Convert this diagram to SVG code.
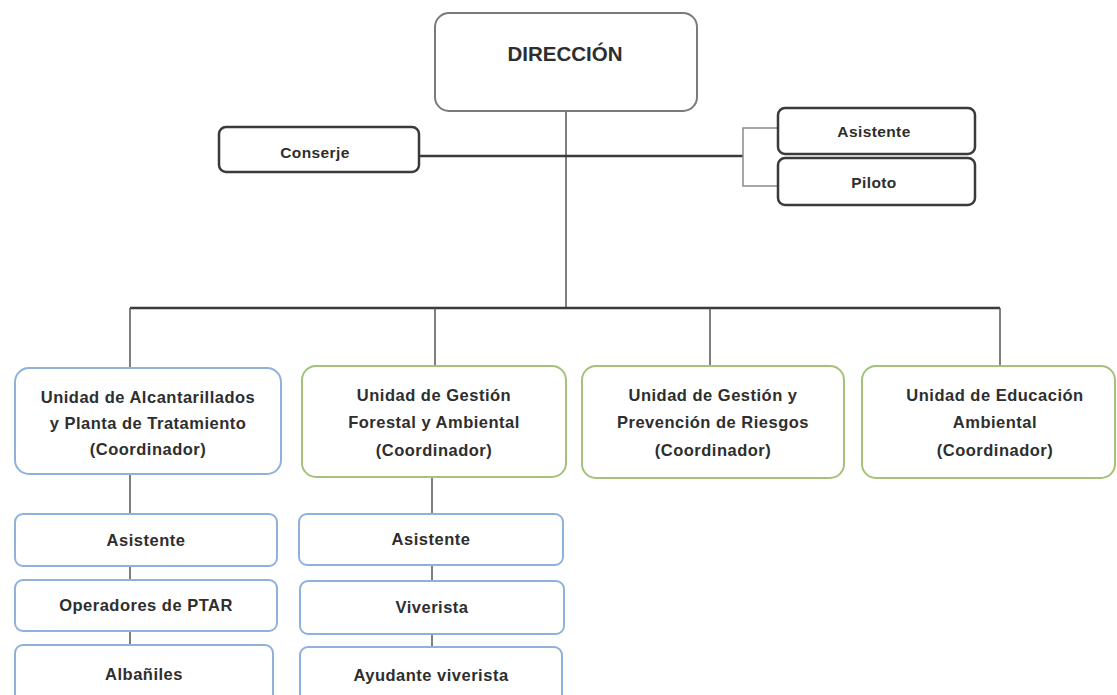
<svg xmlns="http://www.w3.org/2000/svg" width="1117" height="695" viewBox="0 0 1117 695">
<style>
text{font-family:"Liberation Sans",Arial,sans-serif;font-weight:bold;fill:#2e2e2e;text-anchor:middle}
.t{font-size:16.5px;letter-spacing:0.5px}
.s{font-size:15.5px;letter-spacing:0.4px}
.dark{fill:#fff;stroke:#3a3a3a;stroke-width:2.5}
.blue{fill:#fff;stroke:#8fb1dc;stroke-width:2}
.green{fill:#fff;stroke:#a4c27a;stroke-width:2}
.ln{stroke:#3a3a3a;stroke-width:2.5;fill:none}
.ln2{stroke:#555;stroke-width:1.5;fill:none}
.br{stroke:#8a8a8a;stroke-width:1.5;fill:none}
</style>
<rect width="1117" height="695" fill="#fff"/>
<g id="connectors">
<line class="ln2" x1="566" y1="112" x2="566" y2="308"/>
<line class="ln" x1="420" y1="156" x2="743" y2="156"/>
<polyline class="br" points="778,128 743,128 743,186 778,186"/>
<line class="ln" x1="130" y1="308" x2="1000" y2="308"/>
<line class="ln2" x1="130" y1="308" x2="130" y2="368"/>
<line class="ln2" x1="435" y1="308" x2="435" y2="366"/>
<line class="ln2" x1="710" y1="308" x2="710" y2="366"/>
<line class="ln2" x1="1000" y1="308" x2="1000" y2="366"/>
<line class="ln2" x1="130" y1="474" x2="130" y2="645"/>
<line class="ln2" x1="432" y1="477" x2="432" y2="647"/>
</g>
<g id="direccion"><rect x="435" y="13" width="262" height="98" rx="14" fill="#fff" stroke="#7a7a7a" stroke-width="2"/><text x="565" y="61" font-size="20.5">DIRECCIÓN</text></g>
<g id="conserje"><rect class="dark" x="219" y="127" width="200" height="45" rx="7"/><text class="s" x="315" y="158">Conserje</text></g>
<g id="asistente-dir"><rect class="dark" x="778" y="108" width="197" height="46" rx="7"/><text class="s" x="874" y="137">Asistente</text></g>
<g id="piloto"><rect class="dark" x="778" y="158" width="197" height="47" rx="7"/><text class="s" x="874" y="188">Piloto</text></g>
<g id="unidad-alcantarillados"><rect class="blue" x="15" y="368" width="266" height="106" rx="14"/>
<text class="t" x="148" y="403">Unidad de Alcantarillados</text><text class="t" x="148" y="429">y Planta de Tratamiento</text><text class="t" x="148" y="455">(Coordinador)</text></g>
<g id="unidad-forestal"><rect class="green" x="302" y="366" width="264" height="111" rx="14"/>
<text class="t" x="434" y="401">Unidad de Gestión</text><text class="t" x="434" y="428">Forestal y Ambiental</text><text class="t" x="434" y="456">(Coordinador)</text></g>
<g id="unidad-riesgos"><rect class="green" x="582" y="366" width="262" height="112" rx="14"/>
<text class="t" x="713" y="401">Unidad de Gestión y</text><text class="t" x="713" y="428">Prevención de Riesgos</text><text class="t" x="713" y="456">(Coordinador)</text></g>
<g id="unidad-educacion"><rect class="green" x="862" y="366" width="253" height="112" rx="14"/>
<text class="t" x="995" y="401">Unidad de Educación</text><text class="t" x="995" y="428">Ambiental</text><text class="t" x="995" y="456">(Coordinador)</text></g>
<g id="asistente-1"><rect class="blue" x="15" y="514" width="262" height="52" rx="8"/><text class="t" x="146" y="546">Asistente</text></g>
<g id="operadores"><rect class="blue" x="15" y="580" width="262" height="51" rx="8"/><text class="t" x="146" y="611">Operadores de PTAR</text></g>
<g id="albaniles"><rect class="blue" x="15" y="645" width="258" height="60" rx="8"/><text class="t" x="144" y="680">Albañiles</text></g>
<g id="asistente-2"><rect class="blue" x="299" y="514" width="264" height="51" rx="8"/><text class="t" x="431" y="545">Asistente</text></g>
<g id="viverista"><rect class="blue" x="300" y="581" width="264" height="53" rx="8"/><text class="t" x="432" y="613">Viverista</text></g>
<g id="ayudante"><rect class="blue" x="300" y="647" width="262" height="58" rx="8"/><text class="t" x="431" y="681">Ayudante viverista</text></g>
</svg>
